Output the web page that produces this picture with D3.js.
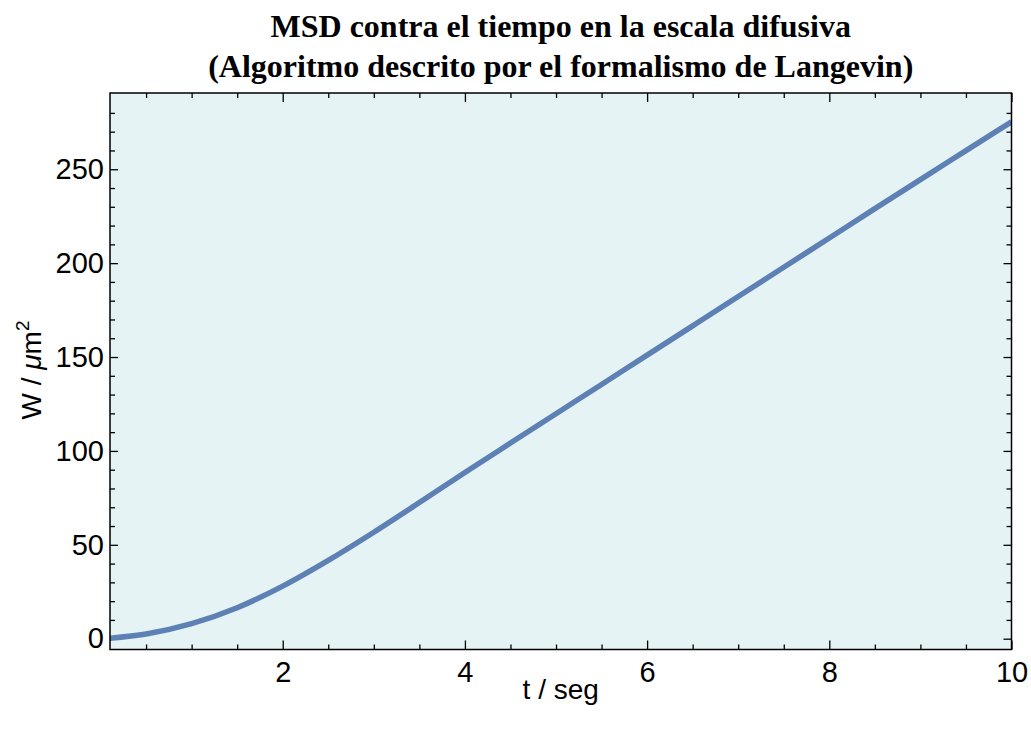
<!DOCTYPE html>
<html>
<head>
<meta charset="utf-8">
<script src="https://cdn.jsdelivr.net/npm/d3@7"></script>
<style>
  body { margin: 0; background: #fff; }
  svg text { fill: #000; }
</style>
</head>
<body>
<div id="chart"></div>
<script>
// data
var tValues = [0.1, 0.5, 1.0, 1.5, 2.0, 2.5, 3.0, 3.5, 4.0, 4.5, 5.0, 5.5, 6.0, 6.5, 7.0, 7.5, 8.0, 8.5, 9.0, 9.5, 10.0];
var msdValues = [0.2, 2.5, 8.0, 16.5, 28, 41.7, 56.7, 72.5, 88.5, 104.2, 119.8, 135.4, 151, 166.6, 182.2, 197.8, 213.4, 229, 244.5, 259.9, 275.3];
var xMajorTicks = [2, 4, 6, 8, 10];
var yMajorTicks = [0, 50, 100, 150, 200, 250];
var titleLines = ["MSD contra el tiempo en la escala difusiva", "(Algoritmo descrito por el formalismo de Langevin)"];

function main() {
    var W = 1031, H = 732;
    var margin = {top: 93, right: 19.5, bottom: 82.5, left: 110},
        width = W - margin.left - margin.right,
        height = H - margin.top - margin.bottom;

    var svg = d3.select("#chart")
        .append("svg")
        .attr("width", W)
        .attr("height", H);

    var g = svg.append("g")
        .attr("transform", "translate(" + margin.left + "," + margin.top + ")");

    var x = d3.scaleLinear().domain([0.104, 10]).range([0, width]);
    var y = d3.scaleLinear().domain([-5.75, 290.6]).range([height, 0]);

    // background
    g.append("rect")
        .attr("width", width)
        .attr("height", height)
        .attr("fill", "#e6f3f4");

    // minor ticks every 0.5 / 10
    var xMinor = d3.range(0.5, 10.01, 0.5).filter(function (d) { return xMajorTicks.indexOf(d) < 0; });
    var yMinor = d3.range(0, 290, 10).filter(function (d) { return d % 50 !== 0; });

    function styleAxis(sel) {
        sel.select(".domain").remove();
        sel.selectAll(".tick line").attr("stroke", "#000").attr("stroke-width", 1.3);
    }

    // bottom
    g.append("g").attr("transform", "translate(0," + height + ")")
        .call(d3.axisBottom(x).tickValues(xMajorTicks).tickSize(-9).tickPadding(12).tickFormat(d3.format("d")))
        .call(styleAxis)
        .selectAll("text").attr("font-family", "Liberation Sans, Arial, sans-serif").attr("font-size", 29);
    g.append("g").attr("transform", "translate(0," + height + ")")
        .call(d3.axisBottom(x).tickValues(xMinor).tickSize(-5).tickFormat(""))
        .call(styleAxis);
    // top
    g.append("g")
        .call(d3.axisTop(x).tickValues(xMajorTicks).tickSize(-9).tickFormat(""))
        .call(styleAxis);
    g.append("g")
        .call(d3.axisTop(x).tickValues(xMinor).tickSize(-5).tickFormat(""))
        .call(styleAxis);
    // left
    g.append("g")
        .call(d3.axisLeft(y).tickValues(yMajorTicks).tickSize(-8).tickPadding(6).tickFormat(d3.format("d")))
        .call(styleAxis)
        .selectAll("text").attr("font-family", "Liberation Sans, Arial, sans-serif").attr("font-size", 29);
    g.append("g")
        .call(d3.axisLeft(y).tickValues(yMinor).tickSize(-5).tickFormat(""))
        .call(styleAxis);
    // right
    g.append("g").attr("transform", "translate(" + width + ",0)")
        .call(d3.axisRight(y).tickValues(yMajorTicks).tickSize(-8).tickFormat(""))
        .call(styleAxis);
    g.append("g").attr("transform", "translate(" + width + ",0)")
        .call(d3.axisRight(y).tickValues(yMinor).tickSize(-5).tickFormat(""))
        .call(styleAxis);

    // the curve
    var points = tValues.map(function (t, i) { return {t: t, v: msdValues[i]}; });
    var line = d3.line()
        .x(function (d) { return x(d.t); })
        .y(function (d) { return y(d.v); })
        .curve(d3.curveMonotoneX);

    g.append("defs").append("clipPath").attr("id", "clip")
        .append("rect").attr("width", width).attr("height", height);

    g.append("path")
        .datum(points)
        .attr("clip-path", "url(#clip)")
        .attr("fill", "none")
        .attr("stroke", "#5e81b5")
        .attr("stroke-width", 5.5)
        .attr("d", line);

    // frame
    g.append("rect")
        .attr("width", width)
        .attr("height", height)
        .attr("fill", "none")
        .attr("stroke", "#000")
        .attr("stroke-width", 1.5);

    // title
    svg.selectAll(".title")
        .data(titleLines)
        .join("text")
        .attr("class", "title")
        .attr("x", margin.left + width / 2)
        .attr("y", function (d, i) { return 37 + i * 40; })
        .attr("text-anchor", "middle")
        .attr("font-family", "Liberation Serif, Times New Roman, serif")
        .attr("font-weight", "bold")
        .attr("font-size", 32)
        .text(function (d) { return d; });

    // x label
    svg.append("text")
        .attr("x", margin.left + width / 2)
        .attr("y", 699)
        .attr("text-anchor", "middle")
        .attr("font-family", "Liberation Sans, Arial, sans-serif")
        .attr("font-size", 28)
        .text("t / seg");

    // y label
    var yl = svg.append("text")
        .attr("transform", "translate(41,370) rotate(-90)")
        .attr("text-anchor", "middle")
        .attr("font-family", "Liberation Sans, Arial, sans-serif")
        .attr("font-size", 28);
    yl.append("tspan").text("W / ");
    yl.append("tspan").attr("font-style", "italic").text("\u03bc");
    yl.append("tspan").text("m");
    yl.append("tspan").attr("dy", -12).attr("font-size", 19).text("2");
}

main();
</script>
</body>
</html>
